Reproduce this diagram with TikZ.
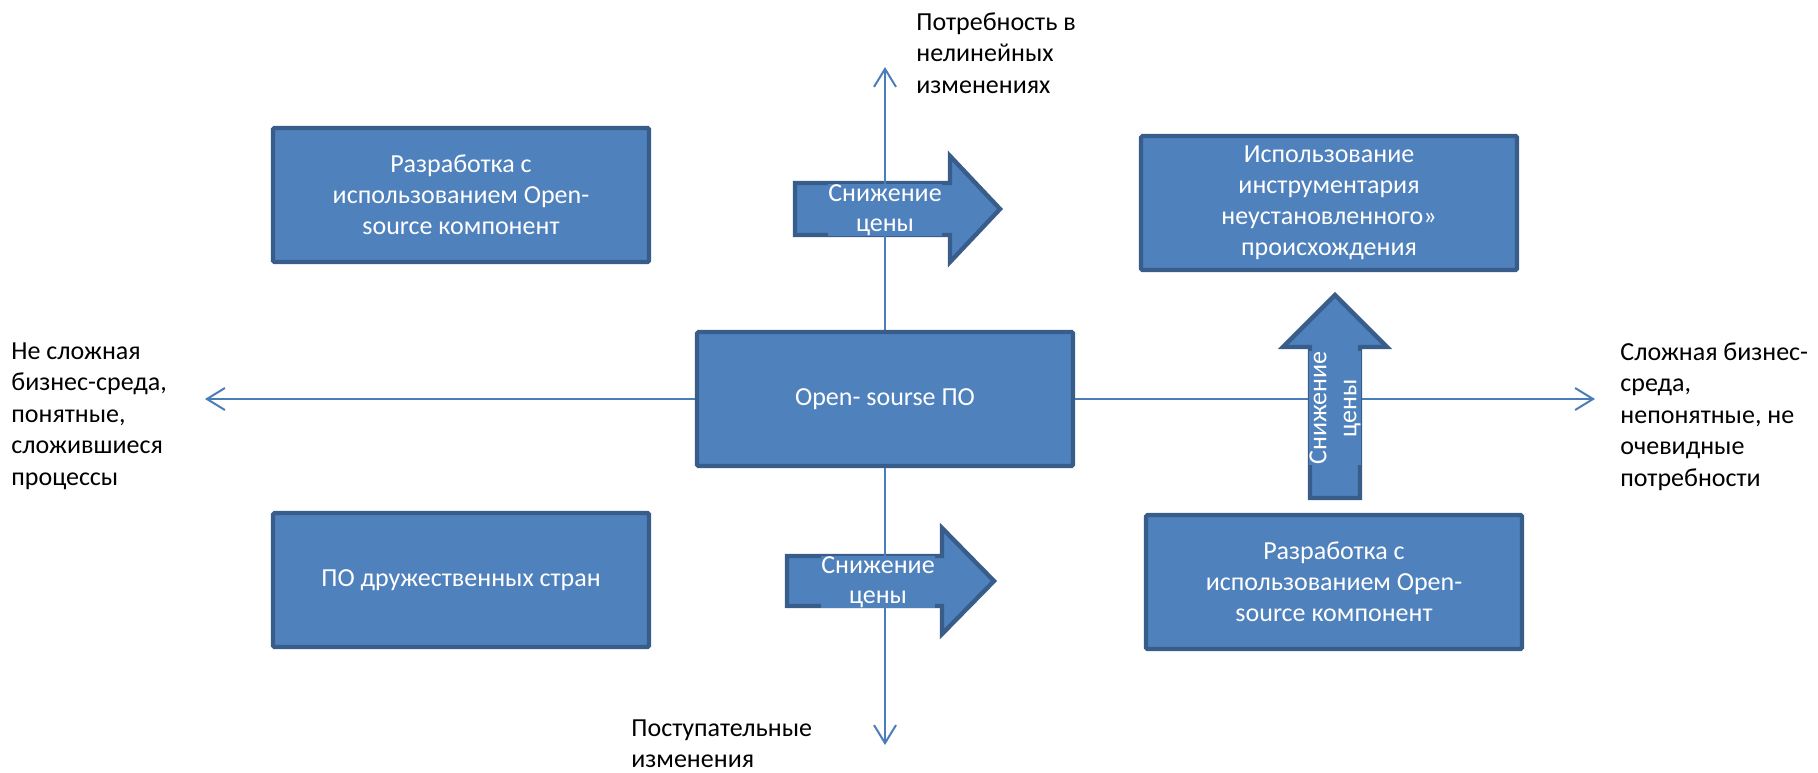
\documentclass[tikz,border=0pt]{standalone}
\usepackage{fontspec}
\setmainfont{Carlito}
\usetikzlibrary{arrows.meta}
\definecolor{boxfill}{HTML}{4F81BD}
\definecolor{boxline}{HTML}{385D8A}
\definecolor{axisline}{HTML}{4A7EBB}

\begin{document}
\begin{tikzpicture}[x=0.5pt, y=-0.5pt,
    box/.style={draw=boxline, fill=boxfill, line width=2.2pt, rounded corners=0.8pt,
      minimum width=188pt, minimum height=67pt, text=white, align=center,
      font=\fontsize{13}{15.5}\selectfont},
    bigarrow/.style={draw=boxline, fill=boxfill, line width=2.2pt, line join=miter},
    axis/.style={draw=axisline, line width=1pt, -{Straight Barb[length=9pt, width=11pt]}},
    label/.style={align=left, anchor=north west, inner sep=0pt,
      font=\fontsize{13}{15.8}\selectfont},
    arrowtext/.style={text=white, align=center, inner sep=0pt, fill=boxfill,
      font=\fontsize{13}{15}\selectfont}]
  \useasboundingbox (0,0) rectangle (1818,772);
  % Nodes
  \node[box] (oss) at (885,399) {Open- sourse ПО};
  \node[box] (ossdev) at (461,195) {Разработка с\\использованием Open-\\source компонент};
  \node[box] (friendly) at (461,580) {ПО дружественных стран};
  \node[box] (unknown) at (1329,203) {Использование\\инструментария\\неустановленного»\\происхождения};
  \node[box] (ossdev2) at (1334,582) {Разработка с\\использованием Open-\\source компонент};
  % Axis labels
  \node[label] (lblup) at (916,12) {Потребность в\\нелинейных\\изменениях};
  \node[label] (lbldown) at (631,719) {Поступательные\\изменения};
  \node[label] (lblleft) at (11,342) {Не сложная\\бизнес-среда,\\понятные,\\сложившиеся\\процессы};
  \node[label] (lblright) at (1620,342) {Сложная бизнес-\\среда,\\непонятные, не\\очевидные\\потребности};
  % Axis ends
  \coordinate (axtop) at (885,67);
  \coordinate (axbot) at (885,745);
  \coordinate (axleft) at (205,399);
  \coordinate (axright) at (1595,399);
  % Block arrows under the axis
  \draw[bigarrow] (795,183) -- (950,183) -- (950,156) -- (1000,209) -- (950,262) -- (950,235) -- (795,235) -- cycle;
  \draw[bigarrow] (787,556) -- (942,556) -- (942,528) -- (994,581) -- (942,634) -- (942,606) -- (787,606) -- cycle;
  % Axes
  \draw[axis] (oss.north) -- (axtop);
  \draw[axis] (oss.south) -- (axbot);
  \draw[axis] (oss.west) -- (axleft);
  \draw[axis] (oss.east) -- (axright);
  \node[arrowtext] (cut1) at (885,210) {Снижение\\цены};
  \node[arrowtext] (cut2) at (878,582) {Снижение\\цены};
  % Up arrow
  \draw[bigarrow] (1310,498) -- (1310,347) -- (1283,347) -- (1335,295) -- (1387,347) -- (1360,347) -- (1360,498) -- cycle;
  \node[arrowtext, rotate=90] (cut3) at (1335,408) {Снижение\\цены};
\end{tikzpicture}
\end{document}
